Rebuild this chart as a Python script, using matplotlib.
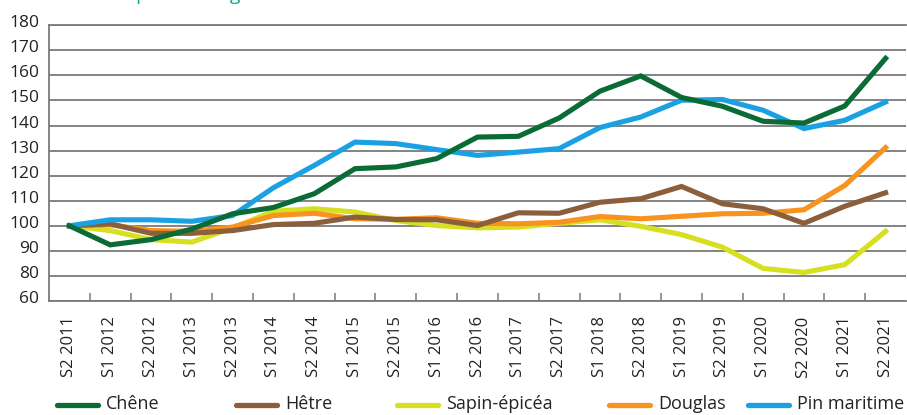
import matplotlib
matplotlib.use("Agg")
import matplotlib.pyplot as plt
from matplotlib.lines import Line2D
from matplotlib.transforms import ScaledTranslation

plt.rcParams['font.family'] = ['Open Sans', 'DejaVu Sans']

categories = ["S2 2011", "S1 2012", "S2 2012", "S1 2013", "S2 2013", "S1 2014", "S2 2014",
              "S1 2015", "S2 2015", "S1 2016", "S2 2016", "S1 2017", "S2 2017", "S1 2018",
              "S2 2018", "S1 2019", "S2 2019", "S1 2020", "S2 2020", "S1 2021", "S2 2021"]

chene = [100, 92.4, 94.5, 98.7, 104.8, 107.3, 112.8, 122.8, 123.5, 126.8, 135.4,
         135.7, 143.0, 153.7, 159.8, 151.2, 147.7, 141.7, 141.0, 147.8, 166.8]
hetre = [100, 100.8, 97.0, 97.0, 98.1, 100.5, 101.0, 103.5, 102.5, 102.4, 100.1,
         105.2, 105.0, 109.4, 110.8, 115.7, 108.8, 106.8, 101.0, 107.8, 113.2]
sapin = [100, 98.1, 94.5, 93.5, 99.2, 105.8, 106.8, 105.5, 102.1, 100.1, 99.2,
         99.5, 101.0, 102.4, 99.8, 96.5, 91.5, 83.0, 81.4, 84.5, 97.8]
douglas = [100, 100.4, 98.1, 97.8, 99.5, 104.1, 105.0, 102.8, 102.6, 103.2, 101.0,
           100.8, 101.4, 103.7, 102.8, 103.8, 104.8, 105.0, 106.4, 116.1, 131.2]
pin = [100, 102.4, 102.4, 101.8, 104.1, 115.2, 124.1, 133.4, 132.8, 130.4, 128.1,
       129.4, 130.8, 139.2, 143.4, 150.1, 150.4, 146.1, 138.8, 142.1, 149.4]

series_names = ["Chêne", "Hêtre", "Sapin-épicéa", "Douglas", "Pin maritime"]
series_values = [chene, hetre, sapin, douglas, pin]
series_colors = ["#0b6b35", "#8b5e3c", "#d6e021", "#f7931e", "#1ba1e2"]
series_z = [6, 5, 3, 4, 5.5]

ytick_values = [70, 80, 90, 100, 110, 120, 130, 140, 150, 160, 170, 180]
ytick_labels = ["60", "80", "90", "100", "110", "120", "130", "140", "150", "160", "170", "180"]

W, H = 907, 415
fig = plt.figure(figsize=(W / 100, H / 100), dpi=100)
ax = fig.add_axes([49 / W, 1 - 301 / H, (906 - 49) / W, (301 - 25.3) / H])

x = list(range(len(categories)))
lines = []
for name, vals, col, z in zip(series_names, series_values, series_colors, series_z):
    ln, = ax.plot(x, vals, color=col, lw=3.7, solid_joinstyle='miter', zorder=z, label=name)
    lines.append(ln)

ax.set_xlim(-0.5, len(categories) - 0.5)
ax.set_ylim(70, 180)
ax.set_yticks(ytick_values)
ax.set_yticklabels(ytick_labels)
ax.yaxis.grid(True, color="#7a7a7a", lw=1.3)
ax.set_axisbelow(True)
ax.tick_params(axis='y', length=0, pad=7, labelsize=12.5, labelcolor="#222222")
offset = ScaledTranslation(0, 4 / 100, fig.dpi_scale_trans)
for lab in ax.get_yticklabels():
    lab.set_transform(lab.get_transform() + offset)

ax.set_xticks(x)
ax.set_xticklabels(categories, rotation=90, fontsize=12, color="#222222")
ax.tick_params(axis='x', which='major', length=0, pad=11)
ax.set_xticks([i + 0.5 for i in x[:-1]], minor=True)
ax.tick_params(axis='x', which='minor', direction='in', length=6, width=1.1, color="#7a7a7a")

ax.spines['right'].set_visible(False)
for s in ['top', 'left', 'bottom']:
    ax.spines[s].set_color("#7a7a7a")
    ax.spines[s].set_linewidth(1.3)

# partially visible title at the top
t = fig.text(0, 1.0, "Indice en ", fontsize=14, color="#1aa58a", va='baseline', ha='left')
fig.canvas.draw()
wpx = t.get_window_extent().width
t.set_visible(False)
fig.text((136 - wpx) / W, 1.0 + 0.5 / H, "Indice en pourcentage", fontsize=14, color="#1aa58a",
         va='baseline', ha='left')

# legend
leg_line_x = [57, 236, 397, 609, 748]
leg_y = 1 - 405 / H
for ln, lx in zip(lines, leg_line_x):
    fig.add_artist(Line2D([lx / W, (lx + 41) / W], [leg_y, leg_y], color=ln.get_color(),
                          lw=3.8, solid_capstyle='round', transform=fig.transFigure))
    fig.text((lx + 49) / W, leg_y + 1 / H, ln.get_label(), fontsize=13, color="#222222",
             va='center', ha='left')

fig.savefig("out.png", dpi=100)
